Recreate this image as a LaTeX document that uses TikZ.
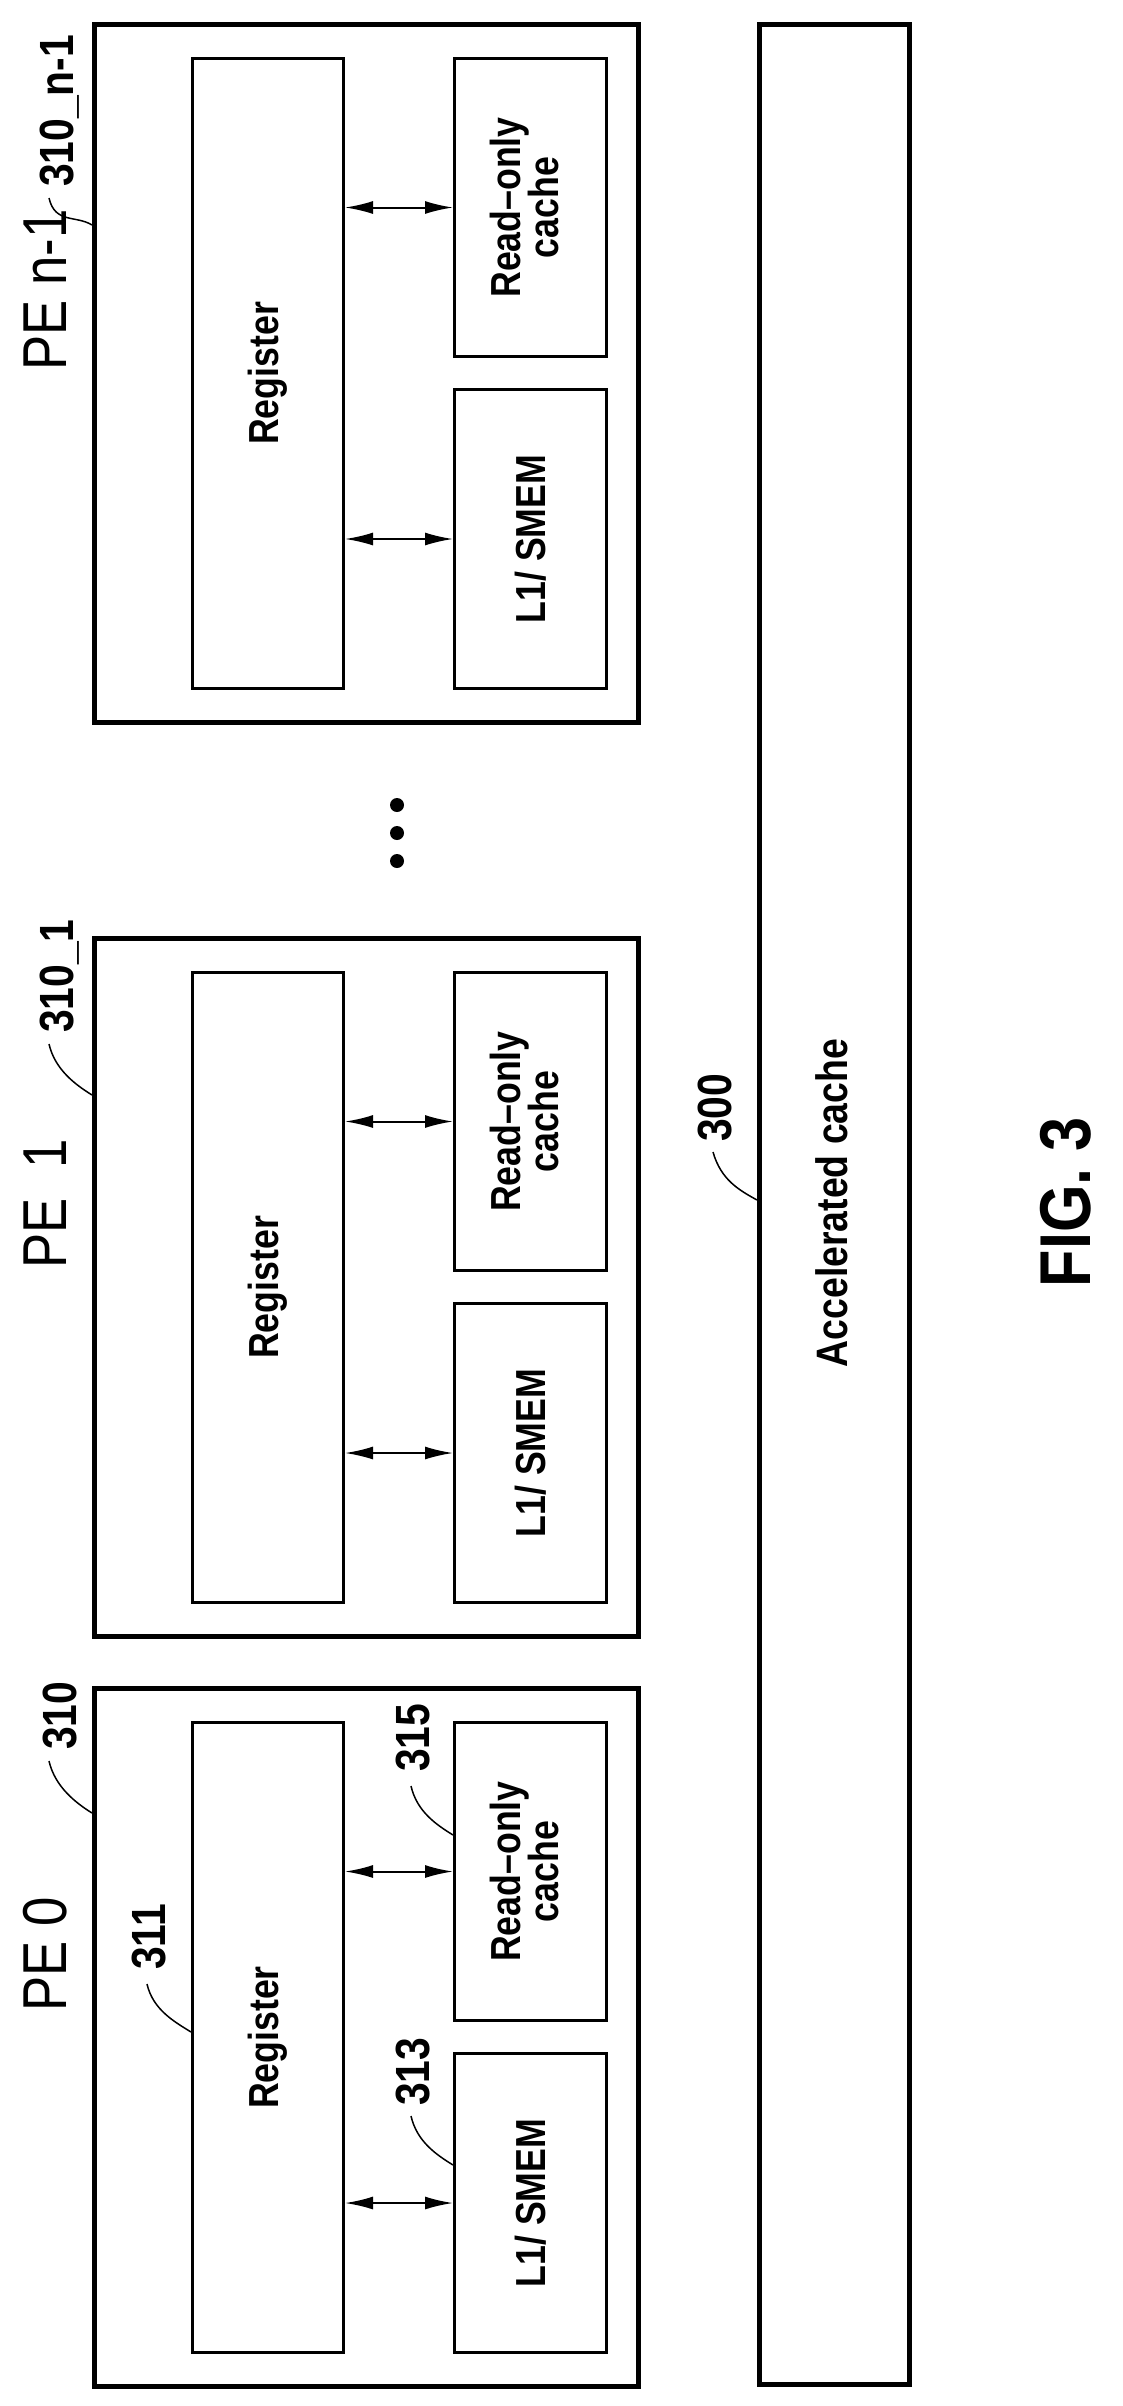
\documentclass[tikz,border=0pt]{standalone}
\usepackage{fontspec}
\setmainfont{Liberation Sans}[FakeStretch=0.85]
\usetikzlibrary{arrows.meta,positioning}

\begin{document}
\begin{tikzpicture}[
    x=1pt,y=-1pt,
    pebox/.style={draw=black,line width=5pt,minimum width=544pt,minimum height=698pt,anchor=north west},
    unit/.style={draw=black,line width=3pt,anchor=north west,align=center,
        font=\fontsize{42}{44}\selectfont\bfseries},
    rottext/.style={rotate=90,inner sep=0pt},
    peLabel/.style={rottext,font=\fontsize{62}{64}\selectfont},
    refLabel/.style={rottext,anchor=west,font=\fontsize{48}{50}\selectfont\bfseries},
    myarrow/.style={{Latex[length=28pt,width=13pt]}-{Latex[length=28pt,width=13pt]},line width=2pt},
    leader/.style={line width=1.5pt}
    ]
    \useasboundingbox (0,0) rectangle (1122,2406);

    \foreach \p/\t/\txt/\ref/\refy/\ly in {%
        n/22/{PE n-1}/{310\_n-1}/165/203,
        a/936/{PE\ \ 1}/{310\_1}/97/159,
        z/1686/{PE 0}/{310}/64/127}
    {
        \node[pebox] (pe\p) at (92,\t) {};
        \node[unit,minimum width=151pt,minimum height=630pt] (reg\p) at (191,\t+35)
            {\rotatebox{90}{Register}};
        \node[unit,minimum width=152pt,minimum height=298pt] (ro\p) at (453,\t+35)
            {\rotatebox{90}{\begin{tabular}{@{}c@{}}Read--only\\[-6pt]cache\end{tabular}}};
        \node[unit,minimum width=152pt,minimum height=299pt] (lm\p) at (453,\t+366)
            {\rotatebox{90}{L1/ SMEM}};
        \draw[myarrow] (reg\p.east |- ro\p.west) -- (ro\p.west);
        \draw[myarrow] (reg\p.east |- lm\p.west) -- (lm\p.west);
        \node[peLabel] (pl\p) at (45,\t+268) {\txt};
        \node[refLabel] (rl\p) at (60,\t+\refy) {\ref};
        \coordinate (ls\p) at (49,\t+\refy+11);
        \coordinate (le\p) at (92,\t+\ly);
        \draw[leader] (ls\p) .. controls +(6,26) and +(-16,-10) .. (le\p);
    }

    % accelerated cache
    \node[draw=black,line width=5pt,minimum width=150pt,minimum height=2360pt,anchor=north west] (acc) at (757,22) {};
    \node[rottext,font=\fontsize{44}{46}\selectfont\bfseries] (acctxt) at (832,1203) {Accelerated cache};

    % extra reference labels of PE 0
    \node[refLabel] (r311) at (149,1970) {311};
    \node[refLabel] (r313) at (413,2106) {313};
    \node[refLabel] (r315) at (413,1772) {315};
    \node[refLabel] (r300) at (715,1142) {300};
    \coordinate (l311) at (147,1984);
    \coordinate (l313) at (411,2116);
    \coordinate (l315) at (411,1786);
    \coordinate (l300) at (713,1152);
    \draw[leader] (l311) .. controls +(6,26) and +(-16,-10) .. (regz.west |- 0,2032);
    \draw[leader] (l313) .. controls +(6,26) and +(-16,-10) .. (lmz.west |- 0,2165);
    \draw[leader] (l315) .. controls +(6,26) and +(-16,-10) .. (roz.west |- 0,1835);
    \draw[leader] (l300) .. controls +(8,28) and +(-18,-10) .. (acc.west |- 0,1200);

    % dots
    \foreach \d in {805,833,861}
        \fill (397,\d) circle (7pt);

    \node[rottext,font=\fontsize{72}{74}\selectfont\bfseries] (fig) at (1066,1202) {FIG. 3};
\end{tikzpicture}
\end{document}
